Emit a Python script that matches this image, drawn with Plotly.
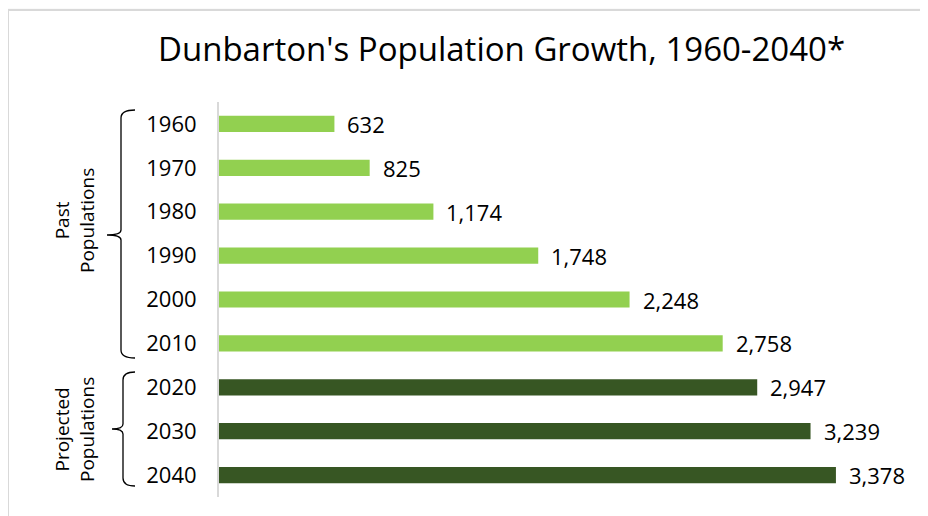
import plotly.graph_objects as go

years = ["1960", "1970", "1980", "1990", "2000", "2010", "2020", "2030", "2040"]
population = [632, 825, 1174, 1748, 2248, 2758, 2947, 3239, 3378]
past_color = "#92D050"
proj_color = "#375623"
colors = [past_color] * 6 + [proj_color] * 3
title_text = "Dunbarton's Population Growth, 1960-2040*"
group_labels = ["Past<br>Populations", "Projected<br>Populations"]

# page has 8px body margin, so figure is slightly smaller
W, H = 920, 508
ML, MR, MT, MB = 211, 15, 94, 19
PW, PH = W - ML - MR, H - MT - MB
FONT = "Open Sans"
OFF = 8  # reference page coords -> figure coords


def px(x):
    return (x - OFF - ML) / PW


def py(y):
    return (H - MB - (y - OFF)) / PH


fig = go.Figure()
fig.add_trace(go.Bar(
    x=population, y=years, orientation="h",
    marker=dict(color=colors, line=dict(width=0)),
    width=0.37, hoverinfo="skip",
))

annotations = []
for i, v in enumerate(population):
    annotations.append(dict(
        x=v, y=i, xref="x", yref="y", text=f"{v:,}", showarrow=False,
        xanchor="left", yanchor="middle", xshift=11,
        font=dict(family=FONT, size=22, color="#000000"),
    ))

annotations.append(dict(
    x=px(501), y=py(49), xref="paper", yref="paper", text=title_text,
    showarrow=False, xanchor="center", yanchor="middle",
    font=dict(family=FONT, size=33, color="#000000"),
))
annotations.append(dict(
    x=px(74), y=py(221), xref="paper", yref="paper", text=group_labels[0],
    showarrow=False, xanchor="center", yanchor="middle", textangle=-90,
    font=dict(family=FONT, size=19, color="#000000"),
))
annotations.append(dict(
    x=px(74), y=py(430), xref="paper", yref="paper", text=group_labels[1],
    showarrow=False, xanchor="center", yanchor="middle", textangle=-90,
    font=dict(family=FONT, size=19, color="#000000"),
))


def bracket(top, mid, bottom, xv, xend, xtip):
    p = (f"M {px(xend)},{py(top)} Q {px(xv)},{py(top)} {px(xv)},{py(top+8)} "
         f"L {px(xv)},{py(mid-5)} Q {px(xv)},{py(mid)} {px(xtip)},{py(mid)} "
         f"Q {px(xv)},{py(mid)} {px(xv)},{py(mid+5)} "
         f"L {px(xv)},{py(bottom-8)} Q {px(xv)},{py(bottom)} {px(xend)},{py(bottom)}")
    return dict(type="path", xref="paper", yref="paper", path=p,
                line=dict(color="#000000", width=1.3))


shapes = [
    dict(type="rect", xref="paper", yref="paper", x0=px(8), x1=px(940),
         y0=py(10), y1=py(530), fillcolor="#FFFFFF",
         line=dict(color="#D9D9D9", width=2), layer="below"),
    bracket(110, 235, 358, 121, 135, 107),
    bracket(372, 429, 486, 123, 135, 112),
]

fig.update_layout(
    width=W, height=H,
    margin=dict(l=ML, r=MR, t=MT, b=MB),
    paper_bgcolor="#FAFAFA", plot_bgcolor="rgba(0,0,0,0)",
    showlegend=False,
    annotations=annotations, shapes=shapes,
    font=dict(family=FONT, color="#000000"),
    xaxis=dict(range=[0, 3800], visible=False, fixedrange=True),
    yaxis=dict(type="category", range=[len(years) - 0.5, -0.5],
               showgrid=False, zeroline=False,
               showline=True, linecolor="#D9D9D9", linewidth=2,
               ticks="", ticklabelstandoff=16,
               tickfont=dict(family=FONT, size=22, color="#000000"),
               fixedrange=True),
)

fig.write_html("out.html", config={"displayModeBar": False})
